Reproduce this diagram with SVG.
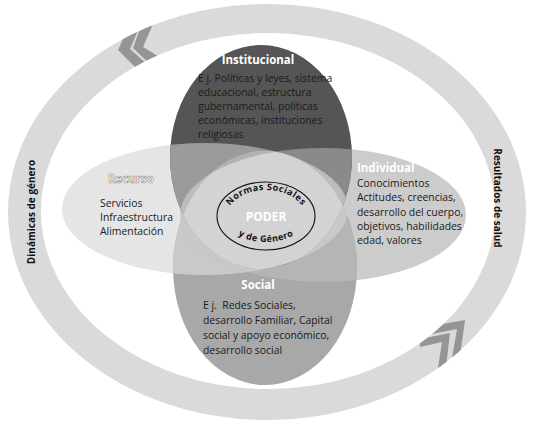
<svg xmlns="http://www.w3.org/2000/svg" xmlns:xlink="http://www.w3.org/1999/xlink" width="539" height="442" viewBox="0 0 539 442">
<style>
.body{font-family:"Open Sans","Liberation Sans",sans-serif;font-size:10.4px;fill:#1a1a1a}
.title{font-family:"Open Sans","Liberation Sans",sans-serif;font-size:11.5px;font-weight:bold;fill:#ffffff}
.ringlbl{font-family:"Open Sans","Liberation Sans",sans-serif;font-size:10px;font-weight:bold;fill:#111}
.arc{font-family:"Open Sans","Liberation Sans",sans-serif;font-size:9px;font-weight:bold;fill:#111}
.chev{fill:#959595}
</style>
<defs>
<ellipse id="eInst" cx="261" cy="157" rx="91" ry="112"/>
<ellipse id="eSoc" cx="265" cy="268" rx="92" ry="117"/>
<ellipse id="eRec" cx="205" cy="209" rx="143" ry="66"/>
<ellipse id="eInd" cx="323" cy="215" rx="143" ry="67"/>
<clipPath id="cInst"><use xlink:href="#eInst"/></clipPath>
<clipPath id="cSoc"><use xlink:href="#eSoc"/></clipPath>
<clipPath id="cRec"><use xlink:href="#eRec"/></clipPath>
<clipPath id="cRing"><path clip-rule="evenodd" d="M8,212 A259,208 0 1 0 526,212 A259,208 0 1 0 8,212 Z M41,211 A227,178 0 1 0 495,211 A227,178 0 1 0 41,211 Z"/></clipPath>
<path id="pTop" d="M226,218 A40,28 0 0 1 306,218"/>
<path id="pBot" d="M222,212 A44,30 0 0 0 310,212"/>
</defs>

<g id="ring">
<ellipse cx="267" cy="212" rx="259" ry="208" fill="#dadada"/>
<ellipse cx="268" cy="211" rx="227" ry="178" fill="#ffffff"/>
<g clip-path="url(#cRing)">
<polygon class="chev" points="118,50 128,28 139,28 130,49 147,64 135,67"/>
<polygon class="chev" points="133,48 141,26 153,24 143,47 161,58 150,64"/>
<polygon class="chev" points="450,333 420,339 420,347 442,342 438,368 446,367"/>
<polygon class="chev" points="465,320 432,326 432,334 457,329 452,358 460,356"/>
</g>
<text class="ringlbl" transform="translate(35,212) rotate(-90)" text-anchor="middle">Dinámicas de género</text>
<text class="ringlbl" transform="translate(494,198) rotate(90)" text-anchor="middle">Resultados de salud</text>
</g>

<g id="recurso">
<use xlink:href="#eRec" fill="#e5e5e5"/>
<text x="108" y="183" font-family="Open Sans, Liberation Sans, sans-serif" font-size="11.5" font-weight="bold" fill="#ffffff" stroke="#8a8a8a" stroke-width="0.6">Recurso</text>
<text class="body"><tspan x="100" y="207">Servicios</tspan><tspan x="100" y="221">Infraestructura</tspan><tspan x="100" y="235">Alimentación</tspan></text>
</g>

<g id="individual">
<use xlink:href="#eInd" fill="#cccccc"/>
<text class="title" x="357" y="172">Individual</text>
<text class="body"><tspan x="357" y="187">Conocimientos</tspan><tspan x="357" y="201">Actitudes, creencias,</tspan><tspan x="357" y="216">desarrollo del cuerpo,</tspan><tspan x="357" y="230">objetivos, habilidades</tspan><tspan x="357" y="244">edad, valores</tspan></text>
</g>

<g id="institucional">
<use xlink:href="#eInst" fill="#555555"/>
<text class="title" x="258" y="64" text-anchor="middle">Institucional</text>
<text class="body"><tspan x="198" y="82">E j. Políticas y leyes, sistema</tspan><tspan x="198" y="96">educacional, estructura</tspan><tspan x="198" y="110">gubernamental, políticas</tspan><tspan x="198" y="124">económicas, instituciones</tspan><tspan x="198" y="138">religiosas</tspan></text>
</g>

<g id="social">
<use xlink:href="#eSoc" fill="#a8a8a8"/>
<text class="title" x="258" y="289" text-anchor="middle">Social</text>
<text class="body" xml:space="preserve"><tspan x="203" y="309">E j.  Redes Sociales,</tspan><tspan x="203" y="324">desarrollo Familiar, Capital</tspan><tspan x="203" y="339">social y apoyo económico,</tspan><tspan x="203" y="354">desarrollo social</tspan></text>
</g>

<g id="overlaps">
<g clip-path="url(#cInst)">
<use xlink:href="#eRec" fill="#9b9b9b"/>
<use xlink:href="#eInd" fill="#8a8a8a"/>
<g clip-path="url(#cRec)"><use xlink:href="#eInd" fill="#bcbcbc"/></g>
</g>
<g clip-path="url(#cSoc)">
<use xlink:href="#eRec" fill="#c9c9c9"/>
<use xlink:href="#eInd" fill="#b5b5b5"/>
<g clip-path="url(#cRec)"><use xlink:href="#eInd" fill="#c8c8c8"/></g>
</g>
<g clip-path="url(#cInst)"><g clip-path="url(#cSoc)">
<use xlink:href="#eRec" fill="#b2b2b2"/>
<use xlink:href="#eInd" fill="#a6a6a6"/>
<g clip-path="url(#cRec)"><use xlink:href="#eInd" fill="#d3d3d3"/></g>
</g></g>
</g>

<g id="poder">
<ellipse cx="266" cy="216" rx="49" ry="34" fill="none" stroke="#111" stroke-width="1.1"/>
<text class="arc" letter-spacing="0.5"><textPath xlink:href="#pTop" startOffset="50%" text-anchor="middle">Normas Sociales</textPath></text>
<text class="arc" letter-spacing="0.4"><textPath xlink:href="#pBot" startOffset="50%" text-anchor="middle">y de Género</textPath></text>
<text x="266" y="221" text-anchor="middle" font-family="Open Sans, Liberation Sans, sans-serif" font-size="12" font-weight="bold" fill="#ffffff">PODER</text>
</g>
</svg>
